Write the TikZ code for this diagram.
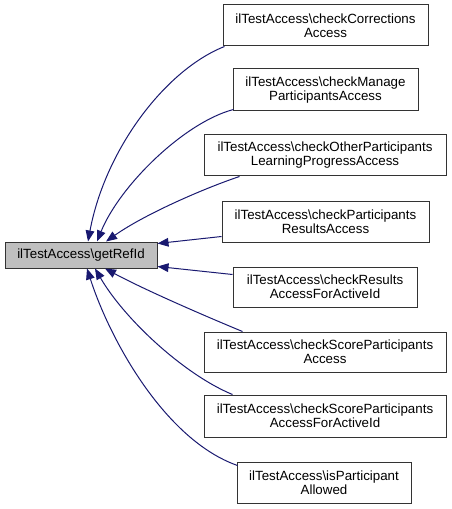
\documentclass[tikz,border=0pt]{standalone}
\usepackage{fontspec}
\setmainfont{Liberation Sans}
\usetikzlibrary{arrows.meta,calc}
\definecolor{edgeblue}{HTML}{191970}
\definecolor{boxline}{HTML}{333333}
\definecolor{mainfill}{HTML}{BFBFBF}
\tikzset{
  fnbox/.style={draw=boxline, line width=0.75pt, fill=white, inner sep=0pt, align=center,
    font=\fontsize{10}{10.5}\selectfont},
  mainbox/.style={fnbox, fill=mainfill},
  calledge/.style={draw=edgeblue, line width=0.75pt, -{Triangle[length=8.25pt,width=6.5pt]}, color=edgeblue}
}
\begin{document}
\begin{tikzpicture}[x=0.75pt,y=-0.75pt]
\useasboundingbox (0,0) rectangle (451,509);
\node[mainbox, minimum width=152*0.75pt, minimum height=26*0.75pt] (main) at (81,255) {ilTestAccess\textbackslash getRefId};
\node[fnbox, minimum width=205*0.75pt, minimum height=41*0.75pt] (n1) at (325.5,25.5) {ilTestAccess\textbackslash checkCorrections\\Access};
\node[fnbox, minimum width=185*0.75pt, minimum height=42*0.75pt] (n2) at (325.5,90) {ilTestAccess\textbackslash checkManage\\ParticipantsAccess};
\node[fnbox, minimum width=242*0.75pt, minimum height=41*0.75pt] (n3) at (325,155.5) {ilTestAccess\textbackslash checkOtherParticipants\\LearningProgressAccess};
\node[fnbox, minimum width=207*0.75pt, minimum height=40*0.75pt] (n4) at (325.5,222) {ilTestAccess\textbackslash checkParticipants\\ResultsAccess};
\node[fnbox, minimum width=184*0.75pt, minimum height=40*0.75pt] (n5) at (325,287) {ilTestAccess\textbackslash checkResults\\AccessForActiveId};
\node[fnbox, minimum width=242*0.75pt, minimum height=40*0.75pt] (n6) at (325,352) {ilTestAccess\textbackslash checkScoreParticipants\\Access};
\node[fnbox, minimum width=242*0.75pt, minimum height=42*0.75pt] (n7) at (325,416) {ilTestAccess\textbackslash checkScoreParticipants\\AccessForActiveId};
\node[fnbox, minimum width=174*0.75pt, minimum height=41*0.75pt] (n8) at (324,482.5) {ilTestAccess\textbackslash isParticipant\\Allowed};

\draw[calledge] ($(n1.south west)+(2,0)$) .. controls (165,70) and (105,150) .. ($(main.north)+(7,0)$);
\draw[calledge] ($(n2.south west)+(1,-2)$) .. controls (185,122) and (120,185) .. ($(main.north)+(16,0)$);
\draw[calledge] ($(n3.south west)+(36,0)$) .. controls (205,188) and (145,214) .. ($(main.north)+(25,0)$);
\draw[calledge] ($(n4.south west)+(0,-6)$) -- ($(main.north east)+(0,2)$);
\draw[calledge] ($(n5.north west)+(0,8)$) -- ($(main.south east)+(0,-2)$);
\draw[calledge] ($(n6.north west)+(39,0)$) .. controls (205,316) and (145,290) .. ($(main.south)+(24,0)$);
\draw[calledge] ($(n7.north west)+(29,0)$) .. controls (185,375) and (125,320) .. ($(main.south)+(14,0)$);
\draw[calledge] ($(n8.north west)+(1,4)$) .. controls (165,440) and (110,340) .. ($(main.south)+(6,0)$);
\end{tikzpicture}
\end{document}
